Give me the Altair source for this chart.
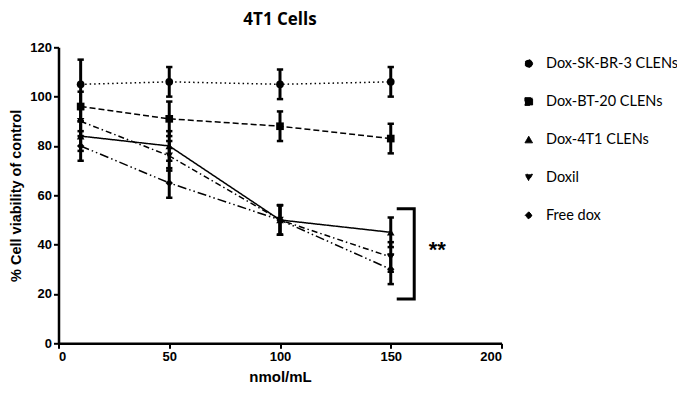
import altair as alt
import pandas as pd

# ---- data ----
doses = [10, 50, 100, 150]
series = ["Dox-SK-BR-3 CLENs", "Dox-BT-20 CLENs", "Dox-4T1 CLENs", "Doxil", "Free dox"]
sk_vals = [105, 106, 105, 106]
bt_vals = [96, 91, 88, 83]
t41_vals = [84, 80, 50, 45]
doxil_vals = [90, 76, 50, 35]
free_vals = [80, 65, 50, 30]
sk_err = [10, 6, 6, 6]
bt_err = [6, 7, 6, 6]
t41_err = [6, 6, 6, 6]
doxil_err = [6, 6, 6, 6]
free_err = [6, 6, 6, 6]

shapes = ["circle", "square", "triangle-up", "triangle-down", "diamond"]
sizes = [60, 55, 50, 45, 36]
dashes = [[1.5, 3], [6, 3], [1, 0], [6, 3, 1.5, 3], [9, 3, 1.5, 3, 1.5, 3]]

# significance bracket and label
bracket_x = [152.7, 160.6, 160.6, 152.7]
bracket_y = [54.5, 54.5, 18, 18]
star_x = [171]
star_y = [38]
star_text = ["**"]

vals = [sk_vals, bt_vals, t41_vals, doxil_vals, free_vals]
errs = [sk_err, bt_err, t41_err, doxil_err, free_err]

rows = []
for s, v, e in zip(series, vals, errs):
    for d, vv, ee in zip(doses, v, e):
        rows.append({"series": s, "shape_id": s, "size_id": s, "dose": d,
                     "value": vv, "lo": vv - ee, "hi": vv + ee})
df = pd.DataFrame(rows)

caps = pd.concat([
    df[["series", "dose", "lo"]].rename(columns={"lo": "cap"}),
    df[["series", "dose", "hi"]].rename(columns={"hi": "cap"}),
])

bdf = pd.DataFrame({"x": bracket_x, "y": bracket_y, "o": list(range(len(bracket_x)))})
sdf = pd.DataFrame({"x": star_x, "y": star_y, "t": star_text})

AX = "Liberation Sans"

x_scale = alt.Scale(domain=[0, 200], nice=False)
y_scale = alt.Scale(domain=[0, 120], nice=False)

x_enc = alt.X("dose:Q", scale=x_scale,
              axis=alt.Axis(title="nmol/mL", values=[0, 50, 100, 150, 200],
                            titleFontSize=15, titleFont=AX, titleFontWeight="bold",
                            titlePadding=6, labelFont=AX, labelFontSize=13,
                            labelFontWeight="bold", labelColor="black", titleColor="black",
                            grid=False, domainColor="black", domainWidth=2.5,
                            tickColor="black", tickWidth=2, tickSize=5, labelPadding=2))
y_enc = alt.Y("value:Q", scale=y_scale,
              axis=alt.Axis(title="% Cell viability of control", values=[0, 20, 40, 60, 80, 100, 120],
                            titleFontSize=14.5, titleFont=AX, titleFontWeight="bold",
                            titlePadding=6, labelFont=AX, labelFontSize=13,
                            labelFontWeight="bold", labelColor="black", titleColor="black",
                            grid=False, domainColor="black", domainWidth=2.5,
                            tickColor="black", tickWidth=2, tickSize=5, labelPadding=2))

base = alt.Chart(df)

lines = base.mark_line(color="black", strokeWidth=1.5).encode(
    x=x_enc, y=y_enc,
    strokeDash=alt.StrokeDash(
        "series:N", scale=alt.Scale(domain=series, range=dashes),
        legend=alt.Legend(title=None, orient="none", legendX=463, legendY=9,
                          labelFont="Lato", labelFontSize=14.5, labelColor="black",
                          symbolSize=55, symbolStrokeWidth=1, symbolFillColor="black",
                          symbolStrokeColor="black", rowPadding=23,
                          labelOffset=10, padding=0, labelLimit=300)),
)

bars = base.mark_rule(color="black", strokeWidth=3).encode(
    x="dose:Q", y="lo:Q", y2="hi:Q",
)

capmarks = alt.Chart(caps).mark_point(shape="M-1,0L1,0", color="black", strokeWidth=2.5,
                                      size=40, opacity=1).encode(
    x="dose:Q", y="cap:Q",
)

points = base.mark_point(filled=True, color="black", opacity=1).encode(
    x="dose:Q", y="value:Q",
    shape=alt.Shape("shape_id:N", scale=alt.Scale(domain=series, range=shapes), legend=None),
    size=alt.Size("size_id:N", scale=alt.Scale(domain=series, range=sizes), legend=None),
)

bracket = alt.Chart(bdf).mark_line(color="black", strokeWidth=3, strokeCap="butt",
                                   strokeJoin="miter").encode(
    x="x:Q", y="y:Q", order="o:Q",
)

stars = alt.Chart(sdf).mark_text(fontSize=22, fontWeight="bold", font=AX, color="black").encode(
    x="x:Q", y="y:Q", text="t:N",
)

chart = alt.layer(lines, bars, capmarks, points, bracket, stars).properties(
    width=443, height=296,
    title=alt.TitleParams("4T1 Cells", font="Open Sans", fontSize=17, fontWeight="bold",
                          color="black", anchor="middle", offset=12),
    autosize=alt.AutoSizeParams(type="none"),
    padding={"left": 50.5, "top": 39.3, "right": 175, "bottom": 47},
).configure_view(stroke=None)

chart.save("out.html", embed_options={"renderer": "svg", "actions": False})
